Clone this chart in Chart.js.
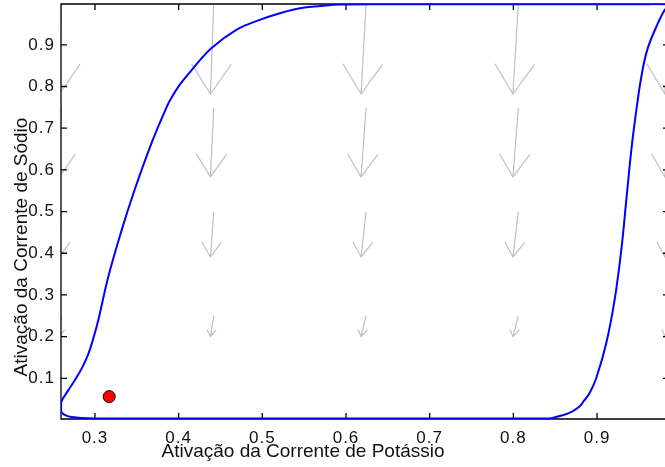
<!DOCTYPE html>
<html>
<head>
<meta charset="utf-8">
<script src="https://cdn.jsdelivr.net/npm/chart.js@4"></script>
<style>
  html, body { margin: 0; padding: 0; background: #fff; overflow: hidden; }
  canvas { display: block; }
</style>
</head>
<body>
<canvas id="c" width="671" height="467" style="width:671px;height:467px"></canvas>
<script>
// Limit cycle in the (n, m) plane: potassium activation vs sodium activation
const cycleN = [0.844, 0.760, 0.680, 0.600, 0.520, 0.440, 0.360, 0.300, 0.284, 0.272, 0.265, 0.2605,
  0.2595, 0.2596, 0.2600, 0.268, 0.276, 0.2845, 0.292, 0.2982, 0.304, 0.316, 0.332, 0.346, 0.366,
  0.384, 0.390, 0.4016, 0.4175, 0.439, 0.469, 0.497, 0.521, 0.545, 0.570, 0.593, 0.650, 0.750,
  0.850, 0.950, 0.984, 0.9858, 0.981, 0.971, 0.960, 0.953, 0.947, 0.941, 0.935, 0.929, 0.921,
  0.911, 0.899, 0.891, 0.884, 0.879, 0.870, 0.860, 0.844];
const cycleM = [0.0035, 0.0034, 0.0034, 0.0034, 0.0034, 0.0034, 0.0035, 0.0036, 0.0045, 0.007, 0.011, 0.017,
  0.025, 0.035, 0.045, 0.071, 0.096, 0.125, 0.158, 0.197, 0.240, 0.344, 0.456, 0.544, 0.656,
  0.743, 0.768, 0.805, 0.844, 0.892, 0.936, 0.960, 0.976, 0.988, 0.993, 0.9965, 0.9974, 0.9976,
  0.9976, 0.9976, 0.9974, 0.993, 0.984, 0.944, 0.888, 0.824, 0.744, 0.648, 0.528, 0.408, 0.288,
  0.184, 0.100, 0.064, 0.045, 0.032, 0.020, 0.012, 0.0035];

// Initial state
const startN = [0.317];
const startM = [0.056];

// Direction field on a coarse grid (dn per column, dm per row)
const fieldN = [0.260, 0.442, 0.624, 0.806, 0.988];
const fieldM = [0.25, 0.50, 0.75, 1.00];
const fieldDN = [-0.0025, -0.004, -0.006, -0.0065, -0.007];
const fieldDM = [-0.050, -0.109, -0.167, -0.218];

const xTicks = [0.3, 0.4, 0.5, 0.6, 0.7, 0.8, 0.9];
const yTicks = [0.1, 0.2, 0.3, 0.4, 0.5, 0.6, 0.7, 0.8, 0.9];
const xRange = [0.2594, 0.986];
const yRange = [0.0023, 0.998];

const xTitle = 'Ativação da Corrente de Potássio';
const yTitle = 'Ativação da Corrente de Sódio';

const FONT = "'Liberation Sans', Arial, Helvetica, sans-serif";

// Axes box with inward ticks, quiver arrows underneath the curves, and axis titles
const framePlugin = {
  id: 'frame',
  beforeDraw(chart) {
    chart.ctx.letterSpacing = '1px';
  },
  beforeDatasetsDraw(chart) {
    const { ctx, chartArea: a, scales: { x, y } } = chart;
    const px = v => x.getPixelForValue(v);
    const py = v => y.getPixelForValue(v);

    ctx.save();
    ctx.beginPath();
    ctx.rect(a.left, a.top, a.right - a.left, a.bottom - a.top);
    ctx.clip();
    ctx.strokeStyle = 'rgb(192,192,192)';
    ctx.lineWidth = 1.2;
    const alpha = 0.33, beta = 0.33;
    fieldN.forEach((n0, i) => {
      fieldM.forEach((m0, j) => {
        const u = fieldDN[i], v = fieldDM[j];
        const tx = n0 + u, ty = m0 + v;
        const w1x = tx - alpha * (u + beta * v), w1y = ty - alpha * (v - beta * u);
        const w2x = tx - alpha * (u - beta * v), w2y = ty - alpha * (v + beta * u);
        ctx.beginPath();
        ctx.moveTo(px(n0), py(m0));
        ctx.lineTo(px(tx), py(ty));
        ctx.moveTo(px(w1x), py(w1y));
        ctx.lineTo(px(tx), py(ty));
        ctx.lineTo(px(w2x), py(w2y));
        ctx.stroke();
      });
    });
    ctx.restore();

    ctx.save();
    ctx.strokeStyle = '#000';
    ctx.lineWidth = 1.3;
    ctx.beginPath();
    ctx.moveTo(a.left, a.top); ctx.lineTo(a.right, a.top);
    ctx.lineTo(a.right, a.bottom); ctx.lineTo(a.left, a.bottom);
    ctx.closePath();
    const tl = 6;
    xTicks.forEach(t => {
      const p = px(t);
      ctx.moveTo(p, a.bottom); ctx.lineTo(p, a.bottom - tl);
      ctx.moveTo(p, a.top); ctx.lineTo(p, a.top + tl);
    });
    yTicks.forEach(t => {
      const p = py(t);
      ctx.moveTo(a.left, p); ctx.lineTo(a.left + tl, p);
      ctx.moveTo(a.right, p); ctx.lineTo(a.right - tl, p);
    });
    ctx.stroke();
    ctx.restore();
  },
  afterDraw(chart) {
    const ctx = chart.ctx;
    ctx.save();
    ctx.fillStyle = '#111';
    ctx.font = '19px ' + FONT;
    ctx.letterSpacing = '0px';
    ctx.textAlign = 'center';
    ctx.textBaseline = 'alphabetic';
    ctx.fillText(xTitle, 303, 457);
    ctx.translate(26.5, 247);
    ctx.rotate(-Math.PI / 2);
    ctx.fillText(yTitle, 0, 0);
    ctx.restore();
    ctx.letterSpacing = '0px';
  }
};

const noPad = s => { s.paddingTop = 0; s.paddingBottom = 0; s.paddingLeft = 0; s.paddingRight = 0; };

const cyclePoints = cycleN.map((n, i) => ({ x: n, y: cycleM[i] }));
const startPoints = startN.map((n, i) => ({ x: n, y: startM[i] }));

new Chart(document.getElementById('c'), {
  type: 'scatter',
  data: {
    datasets: [
      {
        data: startPoints,
        pointRadius: 6,
        pointHoverRadius: 6,
        backgroundColor: '#ff0000',
        borderColor: '#000',
        borderWidth: 1
      },
      {
        data: cyclePoints,
        showLine: true,
        pointRadius: 0,
        borderColor: '#0000ff',
        borderWidth: 2,
        tension: 0.4,
        fill: false
      }
    ]
  },
  options: {
    responsive: false,
    animation: false,
    devicePixelRatio: 1,
    layout: { autoPadding: false, padding: { top: 4, right: 2, left: 0, bottom: 0 } },
    plugins: { legend: { display: false }, tooltip: { enabled: false } },
    events: [],
    scales: {
      x: {
        type: 'linear',
        position: 'bottom',
        min: xRange[0],
        max: xRange[1],
        grid: { display: false, drawTicks: false },
        border: { display: false },
        ticks: {
          font: { family: FONT, size: 17 },
          color: '#111',
          padding: 9,
          maxRotation: 0,
          autoSkip: false,
          callback: v => v.toFixed(1)
        },
        afterBuildTicks: s => { s.ticks = xTicks.map(v => ({ value: v })); },
        afterFit: s => { s.height = 48; noPad(s); }
      },
      y: {
        type: 'linear',
        position: 'left',
        min: yRange[0],
        max: yRange[1],
        grid: { display: false, drawTicks: false },
        border: { display: false },
        ticks: {
          font: { family: FONT, size: 17 },
          color: '#111',
          padding: 6,
          autoSkip: false,
          callback: v => v.toFixed(1)
        },
        afterBuildTicks: s => { s.ticks = yTicks.map(v => ({ value: v })); },
        afterFit: s => { s.width = 61; noPad(s); }
      }
    }
  },
  plugins: [framePlugin]
});
</script>
</body>
</html>
